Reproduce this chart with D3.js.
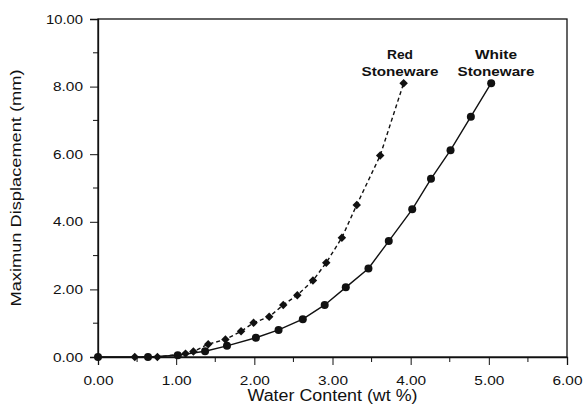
<!DOCTYPE html>
<meta charset="utf-8">
<style>
  body { margin: 0; background: #fff; }
  text { font-family: Arial, "Liberation Sans", sans-serif; fill: #111; }
</style>
<body>
<script src="https://d3js.org/d3.v7.min.js"></script>
<script>
  // white stoneware (circles, solid line)
  const whiteX = [0, 0.64, 1.02, 1.37, 1.65, 2.02, 2.31, 2.62, 2.90, 3.17, 3.46, 3.72, 4.02, 4.26, 4.51, 4.77, 5.03];
  const whiteY = [0, 0, 0.05, 0.17, 0.33, 0.57, 0.80, 1.12, 1.54, 2.06, 2.62, 3.43, 4.37, 5.27, 6.12, 7.11, 8.10];
  // red stoneware (diamonds, dashed line)
  const redX = [0.47, 0.76, 1.12, 1.22, 1.41, 1.63, 1.83, 1.99, 2.19, 2.37, 2.55, 2.75, 2.92, 3.12, 3.31, 3.61, 3.91];
  const redY = [0, 0, 0.10, 0.16, 0.38, 0.52, 0.76, 1.01, 1.19, 1.54, 1.83, 2.26, 2.79, 3.53, 4.50, 5.96, 8.10];
  const xTicks = [0, 1, 2, 3, 4, 5, 6];
  const yTicks = [0, 2, 4, 6, 8, 10];

  const width = 585, height = 405;
  const margin = {top: 19, right: 18, bottom: 48, left: 98};

  const svg = d3.select("body").append("svg")
      .attr("width", width)
      .attr("height", height);

  const x = d3.scaleLinear().domain([0, 6]).range([margin.left, width - margin.right]);
  const y = d3.scaleLinear().domain([0, 10]).range([height - margin.bottom, margin.top]);

  // frame
  svg.append("rect")
      .attr("x", x(0)).attr("y", y(10))
      .attr("width", x(6) - x(0)).attr("height", y(0) - y(10))
      .attr("fill", "none").attr("stroke", "#111").attr("stroke-width", 1.3);

  // x axis
  const xAxis = svg.append("g")
      .attr("transform", "translate(0," + y(0) + ")")
      .call(d3.axisBottom(x).tickValues(xTicks).tickFormat(d3.format(".2f")).tickSize(8).tickPadding(11));
  xAxis.append("g").selectAll("line")
      .data(d3.range(0.5, 6, 1))
      .join("line")
      .attr("x1", d => x(d)).attr("x2", d => x(d))
      .attr("y1", 0).attr("y2", 5)
      .attr("stroke", "#111");

  // y axis
  const yAxis = svg.append("g")
      .attr("transform", "translate(" + x(0) + ",0)")
      .call(d3.axisLeft(y).tickValues(yTicks).tickFormat(d3.format(".2f")).tickSize(8).tickPadding(7));
  yAxis.append("g").selectAll("line")
      .data(d3.range(1, 10, 2))
      .join("line")
      .attr("y1", d => y(d)).attr("y2", d => y(d))
      .attr("x1", 0).attr("x2", -5)
      .attr("stroke", "#111");

  svg.selectAll(".domain").attr("stroke", "#111").attr("stroke-width", 1.3);
  svg.selectAll(".tick line").attr("stroke", "#111");
  // the scan's lettering is wide, so stretch the labels
  svg.selectAll(".tick text")
      .style("font-size", "13px").attr("fill", "#111")
      .attr("lengthAdjust", "spacingAndGlyphs")
      .attr("textLength", function() { return this.textContent.length > 4 ? 37 : 30; });

  // axis titles
  svg.append("text")
      .attr("x", (x(0) + x(6)) / 2).attr("y", 401)
      .attr("text-anchor", "middle")
      .style("font-size", "16px")
      .attr("lengthAdjust", "spacingAndGlyphs").attr("textLength", 170)
      .text("Water Content (wt %)");
  svg.append("text")
      .attr("transform", "translate(21," + (y(0) + y(10)) / 2 + ") rotate(-90)")
      .attr("text-anchor", "middle")
      .style("font-size", "15px")
      .attr("lengthAdjust", "spacingAndGlyphs").attr("textLength", 237)
      .text("Maximun Displacement (mm)");

  const line = d3.line().x(d => x(d[0])).y(d => y(d[1]));
  const white = whiteX.map((v, i) => [v, whiteY[i]]);
  const red = redX.map((v, i) => [v, redY[i]]);

  svg.append("path").datum(white)
      .attr("d", line).attr("fill", "none")
      .attr("stroke", "#111").attr("stroke-width", 1.4);
  svg.append("path").datum(red)
      .attr("d", line).attr("fill", "none")
      .attr("stroke", "#111").attr("stroke-width", 1.4)
      .attr("stroke-dasharray", "4,3");

  svg.selectAll(".dot-white").data(white).join("circle")
      .attr("cx", d => x(d[0])).attr("cy", d => y(d[1]))
      .attr("r", 4).attr("fill", "#111");

  // square turned 45 degrees = even diamond
  const diamond = d3.symbol().type(d3.symbolSquare).size(36);
  svg.selectAll(".dot-red").data(red).join("path")
      .attr("d", diamond)
      .attr("transform", d => "translate(" + x(d[0]) + "," + y(d[1]) + ") rotate(45)")
      .attr("fill", "#111");

  // series labels
  const labels = [
    {lines: ["Red", "Stoneware"], widths: [26, 77], cx: 400},
    {lines: ["White", "Stoneware"], widths: [42, 77], cx: 496}
  ];
  labels.forEach(l => {
    l.lines.forEach((t, i) => {
      svg.append("text")
          .attr("x", l.cx).attr("y", 59 + i * 17)
          .attr("text-anchor", "middle")
          .style("font-size", "13px").style("font-weight", "bold")
          .attr("lengthAdjust", "spacingAndGlyphs").attr("textLength", l.widths[i])
          .text(t);
    });
  });
</script>
</body>
